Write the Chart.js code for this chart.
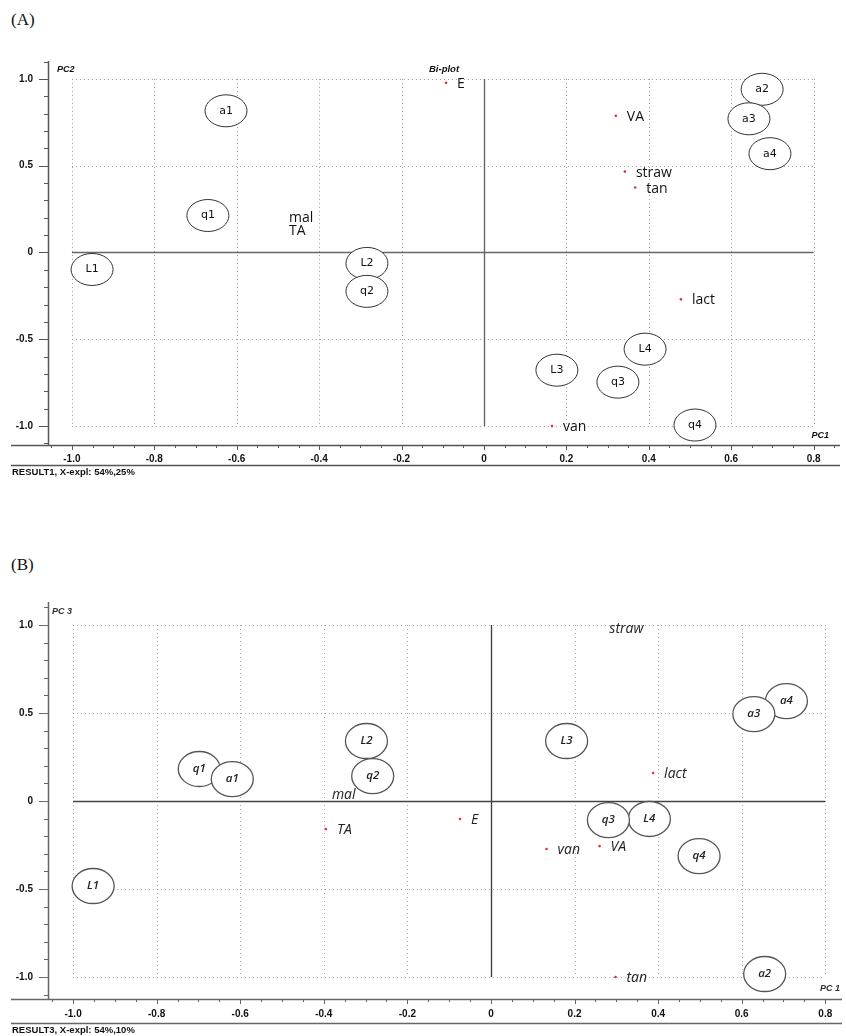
<!DOCTYPE html>
<html>
<head>
<meta charset="utf-8">
<script src="https://cdn.jsdelivr.net/npm/chart.js@4.4.1/dist/chart.umd.min.js"></script>
<style>
  body { margin: 0; background: #fff; width: 846px; height: 1036px; position: relative; overflow: hidden; }
  .tag { position: absolute; left: 11px; font: 17px "Liberation Serif", serif; color: #111; }
  .box { position: absolute; left: 0; width: 846px; }
  #boxA { top: 40px; height: 445px; }
  #boxB { top: 581px; height: 455px; }
</style>
</head>
<body>
<div class="tag" style="top:10px">(A)</div>
<div class="tag" style="top:555px">(B)</div>
<div class="box" id="boxA"><canvas id="chartA"></canvas></div>
<div class="box" id="boxB"><canvas id="chartB"></canvas></div>
<script>
// axis ticks shared by both panels
const xTickValues = [-1.0, -0.8, -0.6, -0.4, -0.2, 0, 0.2, 0.4, 0.6, 0.8];
const xTickLabels = ['-1.0', '-0.8', '-0.6', '-0.4', '-0.2', '0', '0.2', '0.4', '0.6', '0.8'];
const yTickValues = [-1.0, -0.5, 0, 0.5, 1.0];
const yTickLabels = ['-1.0', '-0.5', '0', '0.5', '1.0'];

// (A) PC1 vs PC2 - variables (red) and samples (circled)
const varNamesA = ['E', 'VA', 'straw', 'tan', 'lact', 'van', 'mal', 'TA'];
const varPC1A = [-0.092, 0.320, 0.342, 0.367, 0.478, 0.165, -0.50, -0.50];
const varPC2A = [0.977, 0.787, 0.466, 0.374, -0.270, -1.000, 0.207, 0.130];
const noDotA = ['mal', 'TA'];
const sampleNamesA = ['L1', 'L2', 'L3', 'L4', 'q1', 'q2', 'q3', 'q4', 'a1', 'a2', 'a4', 'a3'];
const samplePC1A = [-0.951, -0.284, 0.177, 0.391, -0.670, -0.284, 0.325, 0.512, -0.626, 0.675, 0.694, 0.643];
const samplePC2A = [-0.098, -0.063, -0.678, -0.557, 0.213, -0.224, -0.747, -0.994, 0.816, 0.940, 0.569, 0.770];

// (B) PC1 vs PC3
const varNamesB = ['straw', 'lact', 'E', 'van', 'VA', 'tan', 'TA', 'mal'];
const varPC1B = [0.257, 0.388, -0.074, 0.133, 0.260, 0.298, -0.395, -0.407];
const varPC3B = [0.983, 0.159, -0.102, -0.273, -0.256, -1.000, -0.159, 0.040];
const noDotB = ['straw', 'mal'];
const sampleNamesB = ['L1', 'L2', 'L3', 'L4', 'q1', 'q2', 'q3', 'q4', 'a1', 'a2', 'a4', 'a3'];
const samplePC1B = [-0.952, -0.298, 0.181, 0.379, -0.698, -0.283, 0.281, 0.498, -0.619, 0.655, 0.707, 0.629];
const samplePC3B = [-0.483, 0.341, 0.341, -0.102, 0.182, 0.142, -0.108, -0.313, 0.125, -0.983, 0.568, 0.494];

function pts(xs, ys) {
  return xs.map((v, i) => ({ x: v, y: ys[i] }));
}

// draws the dotted grid, zero lines, axis frame, ellipses and labels
const biplotDecor = {
  id: 'biplotDecor',
  beforeDatasetsDraw(chart, args, o) {
    const { ctx, scales: { x, y } } = chart;
    const xl = x.getPixelForValue(xTickValues[0]);
    const xr = x.getPixelForValue(xTickValues[xTickValues.length - 1]);
    const yb = y.getPixelForValue(yTickValues[0]);
    const yt = y.getPixelForValue(yTickValues[yTickValues.length - 1]);
    ctx.save();
    ctx.strokeStyle = o.gridColor;
    ctx.lineWidth = 1;
    ctx.setLineDash([1, 3]);
    xTickValues.forEach(v => {
      if (v === 0) return;
      const px = Math.round(x.getPixelForValue(v)) + 0.5;
      ctx.beginPath(); ctx.moveTo(px, yt); ctx.lineTo(px, yb); ctx.stroke();
    });
    yTickValues.forEach(v => {
      if (v === 0) return;
      const py = Math.round(y.getPixelForValue(v)) + 0.5;
      ctx.beginPath(); ctx.moveTo(xl, py); ctx.lineTo(xr, py); ctx.stroke();
    });
    ctx.setLineDash([]);
    ctx.strokeStyle = o.zeroColor;
    ctx.lineWidth = 1.4;
    const x0 = Math.round(x.getPixelForValue(0)) + 0.5;
    const y0 = Math.round(y.getPixelForValue(0)) + 0.5;
    ctx.beginPath(); ctx.moveTo(xl, y0); ctx.lineTo(xr, y0); ctx.stroke();
    ctx.beginPath(); ctx.moveTo(x0, yt); ctx.lineTo(x0, yb); ctx.stroke();
    ctx.restore();
  },
  afterDatasetsDraw(chart, args, o) {
    const { ctx } = chart;
    ctx.save();
    // samples: white ellipse with name
    const sMeta = chart.getDatasetMeta(1);
    ctx.lineWidth = o.ellipseWidth;
    ctx.strokeStyle = o.ellipseColor;
    ctx.textAlign = 'center';
    ctx.textBaseline = 'middle';
    ctx.font = o.sampleFont;
    sMeta.data.forEach((el, i) => {
      ctx.beginPath();
      ctx.ellipse(el.x, el.y, o.rx, o.ry, 0, 0, Math.PI * 2);
      ctx.fillStyle = '#fff';
      ctx.fill();
      ctx.stroke();
      ctx.fillStyle = o.textColor;
      ctx.fillText(chart.data.datasets[1].names[i], el.x, el.y);
    });
    // variables: name to the right of the dot
    const vMeta = chart.getDatasetMeta(0);
    ctx.textAlign = 'left';
    ctx.font = o.varFont;
    ctx.fillStyle = o.textColor;
    vMeta.data.forEach((el, i) => {
      ctx.fillText(chart.data.datasets[0].names[i], el.x + o.labelGap, el.y + 1);
    });
    ctx.restore();
  },
  afterDraw(chart, args, o) {
    const { ctx, chartArea: a, scales: { x, y } } = chart;
    ctx.save();
    ctx.strokeStyle = o.axisColor;
    ctx.lineWidth = 1.5;
    // axis lines
    ctx.beginPath(); ctx.moveTo(a.left + 0.5, a.top); ctx.lineTo(a.left + 0.5, a.bottom); ctx.stroke();
    ctx.beginPath(); ctx.moveTo(11, a.bottom + 0.5); ctx.lineTo(a.right, a.bottom + 0.5); ctx.stroke();
    ctx.beginPath(); ctx.moveTo(11, a.bottom + o.baseGap + 0.5); ctx.lineTo(a.right, a.bottom + o.baseGap + 0.5); ctx.stroke();
    // tick marks
    ctx.lineWidth = 1;
    for (let k = -11; k <= 11; k++) {
      const py = Math.round(y.getPixelForValue(k / 10)) + 0.5;
      if (py < a.top || py > a.bottom) continue;
      const len = k % 5 === 0 ? 9 : 4;
      ctx.beginPath(); ctx.moveTo(a.left - len, py); ctx.lineTo(a.left, py); ctx.stroke();
    }
    for (let k = -21; k <= 17; k++) {
      const px = Math.round(x.getPixelForValue(k / 20)) + 0.5;
      if (px < a.left || px > a.right) continue;
      const len = k % 4 === 0 ? 5 : 3;
      ctx.beginPath(); ctx.moveTo(px, a.bottom); ctx.lineTo(px, a.bottom + len); ctx.stroke();
    }
    // axis names and footer
    ctx.fillStyle = o.titleColor;
    ctx.textBaseline = 'middle';
    ctx.font = o.titleFont;
    ctx.textAlign = 'left';
    ctx.fillText(o.yName, a.left + o.yNameDx, a.top + o.yNameDy);
    if (o.topName) {
      ctx.font = 'italic 600 9.5px "Liberation Sans", Arial, sans-serif';
      ctx.fillText(o.topName, o.topNameX, a.top + 8);
      ctx.font = o.titleFont;
    }
    ctx.textAlign = 'right';
    ctx.fillText(o.xName, o.xNameX, a.bottom - o.xNameDy);
    ctx.textAlign = 'left';
    ctx.fillStyle = '#111';
    ctx.font = 'bold 9.5px "Liberation Sans", Arial, sans-serif';
    ctx.fillText(o.footer, 12, a.bottom + o.baseGap + 7);
    ctx.restore();
  }
};

function makePanel(id, p) {
  const ctx = document.getElementById(id).getContext('2d');
  return new Chart(ctx, {
    type: 'scatter',
    data: {
      datasets: [
        {
          names: p.varNames,
          data: pts(p.varX, p.varY),
          pointRadius: p.varNames.map(n => (p.noDot.includes(n) ? 0 : 1.3)),
          pointBackgroundColor: '#e0303a',
          pointBorderWidth: 0
        },
        {
          names: p.sampleNames,
          data: pts(p.sampleX, p.sampleY),
          pointRadius: 0
        }
      ]
    },
    options: {
      responsive: true,
      maintainAspectRatio: false,
      animation: false,
      events: [],
      layout: { padding: { top: 10, right: p.padRight, left: 0, bottom: 0 } },
      scales: {
        x: {
          type: 'linear',
          min: p.xMin,
          max: p.xMax,
          grid: { display: false, drawTicks: false },
          border: { display: false },
          afterBuildTicks: s => { s.ticks = xTickValues.map(v => ({ value: v })); },
          afterFit: s => { s.height = p.xHeight; },
          ticks: {
            padding: p.xPad,
            maxRotation: 0,
            autoSkip: false,
            color: '#111',
            font: { family: '"Liberation Sans", Arial, sans-serif', size: 10, weight: 'bold' },
            callback: (v, i) => xTickLabels[i]
          }
        },
        y: {
          type: 'linear',
          min: p.yMin,
          max: p.yMax,
          grid: { display: false, drawTicks: false },
          border: { display: false },
          afterBuildTicks: s => { s.ticks = yTickValues.map(v => ({ value: v })); },
          afterFit: s => { s.width = 48; },
          ticks: {
            padding: 15,
            autoSkip: false,
            color: '#111',
            font: { family: '"Liberation Sans", Arial, sans-serif', size: 10, weight: 'bold' },
            callback: (v, i) => yTickLabels[i]
          }
        }
      },
      plugins: {
        legend: { display: false },
        tooltip: { enabled: false },
        biplotDecor: p.decor
      }
    },
    plugins: [biplotDecor]
  });
}

makePanel('chartA', {
  varNames: varNamesA, varX: varPC1A, varY: varPC2A, noDot: noDotA,
  sampleNames: sampleNamesA, sampleX: samplePC1A, sampleY: samplePC2A,
  xMin: -1.058, xMax: 0.864, yMin: -1.109, yMax: 1.103,
  padRight: 6, xHeight: 40, xPad: 8,
  decor: {
    gridColor: '#9a9a9a', zeroColor: '#666', axisColor: '#555',
    ellipseColor: '#333', ellipseWidth: 1, rx: 21, ry: 16,
    sampleFont: '11px "DejaVu Sans", Verdana, sans-serif',
    varFont: '14px "Open Sans", sans-serif',
    textColor: '#111', labelGap: 11,
    titleColor: '#111', titleFont: 'italic bold 9px "Liberation Sans", Arial, sans-serif',
    yName: 'PC2', yNameDx: 9, yNameDy: 9,
    topName: 'Bi-plot', topNameX: 429,
    xName: 'PC1', xNameX: 829, xNameDy: 9,
    baseGap: 20, footer: 'RESULT1, X-expl: 54%,25%'
  }
});

makePanel('chartB', {
  varNames: varNamesB, varX: varPC1B, varY: varPC3B, noDot: noDotB,
  sampleNames: sampleNamesB, sampleX: samplePC1B, sampleY: samplePC3B,
  xMin: -1.06, xMax: 0.84, yMin: -1.125, yMax: 1.131,
  padRight: 0, xHeight: 37, xPad: 9,
  decor: {
    gridColor: '#a8a8a8', zeroColor: '#444', axisColor: '#666',
    ellipseColor: '#555', ellipseWidth: 1.3, rx: 21, ry: 17.5,
    sampleFont: 'italic 600 11.5px "Open Sans", sans-serif',
    varFont: 'italic 14px "Open Sans", sans-serif',
    textColor: '#222', labelGap: 11,
    titleColor: '#333', titleFont: 'italic bold 9px "Liberation Sans", Arial, sans-serif',
    yName: 'PC 3', yNameDx: 4, yNameDy: 10,
    topName: null, topNameX: 0,
    xName: 'PC 1', xNameX: 840, xNameDy: 10,
    baseGap: 24, footer: 'RESULT3, X-expl: 54%,10%'
  }
});
</script>
</body>
</html>
